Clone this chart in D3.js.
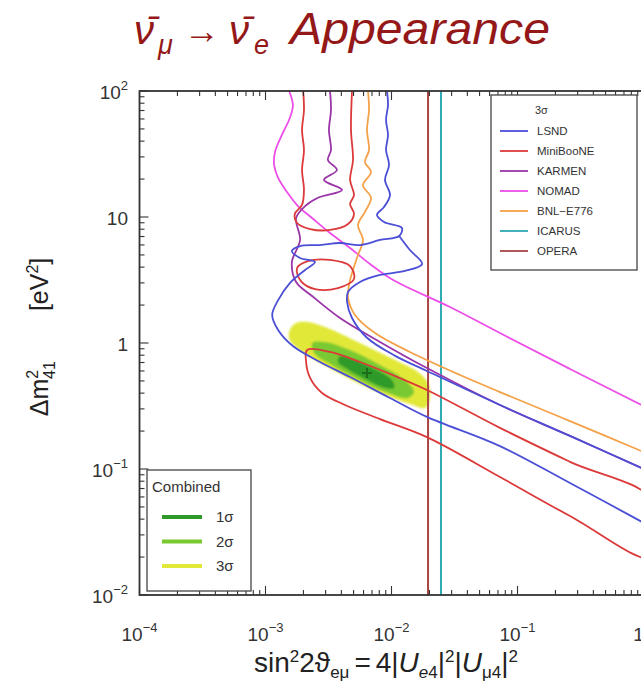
<!DOCTYPE html>
<html>
<head>
<meta charset="utf-8">
<script src="https://d3js.org/d3.v7.min.js"></script>
<style>
html,body{margin:0;padding:0;background:#fff;}
svg{display:block;}
text{font-family:"Liberation Sans",Arial,sans-serif;}
</style>
</head>
<body>
<svg id="chart" width="641" height="688"></svg>
<script>
// ---------------- data ----------------
const xDomain = [1e-4, 1];
const yDomain = [1e-2, 1e2];
const xTickValues = [1e-4, 1e-3, 1e-2, 1e-1, 1];
const xTickBase = ["10", "10", "10", "10", "1"];
const xTickSup = ["\u22124", "\u22123", "\u22122", "\u22121", ""];
const yTickValues = [1e2, 10, 1, 1e-1, 1e-2];
const yTickBase = ["10", "10", "1", "10", "10"];
const yTickSup = ["2", "", "", "\u22121", "\u22122"];

const experiments = ["LSND", "MiniBooNE", "KARMEN", "NOMAD", "BNL\u2212E776", "ICARUS", "OPERA"];
const combinedLevels = ["1\u03c3", "2\u03c3", "3\u03c3"];

// [sin^2 2theta, dm2 (eV^2)]
const operaLimit = [[1.95e-2, 1e-2], [1.95e-2, 100]];
const icarusLimit = [[2.47e-2, 1e-2], [2.47e-2, 100]];

const nomad = [[1.54e-3,100],[1.65e-3,77.4],[1.56e-3,61],[1.35e-3,44.8],[1.19e-3,32.8],[1.17e-3,25.9],
  [1.26e-3,20.4],[1.48e-3,15.8],[1.81e-3,12.2],[2.34e-3,9.82],[3.25e-3,7.46],[4.69e-3,5.68],
  [6.75e-3,4.24],[1.03e-2,3.16],[2.91e-2,1.93],[7.26e-2,1.2],[0.261,0.622],[1.19,0.29]];

const bnl = [[6.51e-3,100],[6.63e-3,70.7],[6.39e-3,49],[6.63e-3,34],[6.16e-3,27.3],[6.88e-3,22.8],
  [5.94e-3,17.9],[6.88e-3,14.2],[6.16e-3,11],[5.42e-3,8.64],[5.94e-3,6.57],[5.42e-3,4.99],
  [4.95e-3,3.8],[4.6e-3,2.89],[4.52e-3,2.28],[5.13e-3,1.67],[7.4e-3,1.2],[1.4e-2,0.849],
  [3.5e-2,0.557],[7.26e-2,0.408],[0.261,0.24],[1.19,0.127]];

const karmen = [[3.25e-3,100],[3.31e-3,70.7],[3.19e-3,49],[3.31e-3,34],[3.13e-3,28.3],[3.69e-3,23.6],
  [2.91e-3,19.7],[4.05e-3,16.4],[2.61e-3,14.2],[2.06e-3,12.2],[1.75e-3,9.82],[1.88e-3,6.57],
  [1.62e-3,4.39],[1.75e-3,3.05],[2.34e-3,2.36],[3.9e-3,1.58],[8.1e-3,1.02],[1.91e-2,0.633],
  [7.26e-2,0.322],[0.261,0.183],[1.19,0.0928]];

const minibooneHigh = [[1.99e-3,100],[2.02e-3,70.7],[1.95e-3,49],[2.02e-3,34],[1.95e-3,23.6],[2.02e-3,16.4],
  [1.95e-3,12.5],[1.71e-3,10.6],[1.78e-3,8.96],[2.26e-3,8.03],[3.25e-3,7.89],[4.52e-3,8.8],
  [5.04e-3,10.6],[4.69e-3,12.7],[5.04e-3,14.9],[4.69e-3,19.7],[4.95e-3,28.3],[4.77e-3,49],[4.86e-3,100]];
const minibooneIsland = [[1.78e-3,3.94],[1.91e-3,3.1],[2.47e-3,2.68],[3.76e-3,2.73],[5.04e-3,3.22],
  [4.69e-3,4.08],[3.25e-3,4.56],[2.17e-3,4.47]];
const minibooneLow = [[2.14e-3,0.88],[3.25e-3,0.849],[5.62e-3,0.707],[9.73e-3,0.568],[1.91e-2,0.424],
  [7.26e-2,0.212],[0.261,0.114],[1.19,0.056],[1.19,0.0197],[0.261,0.0424],[7.26e-2,0.0864],
  [1.91e-2,0.179],[8.1e-3,0.249],[4.28e-3,0.322],[2.81e-3,0.401],[2.26e-3,0.528],[2.1e-3,0.707]];

const lsndOuter = [[9.21e-3,100],[9.38e-3,77.4],[9.05e-3,58.9],[9.38e-3,44.8],[9.05e-3,34],[9.56e-3,25.9],
  [8.88e-3,19.7],[9.73e-3,14.9],[8.72e-3,12],[7.67e-3,10.4],[8.72e-3,9.12],[1.21e-2,8.18],
  [1.15e-2,7.07],[8.1e-3,6.57],[5.62e-3,5.99],[3.9e-3,6.22],[2.71e-3,5.99],[1.88e-3,5.88],
  [1.62e-3,5.37],[1.88e-3,4.73],[2.47e-3,4.39],[2.06e-3,3.8],[1.56e-3,2.99],[1.26e-3,2.19],
  [1.13e-3,1.67],[1.26e-3,1.27],[1.65e-3,0.947],[2.71e-3,0.707],[4.69e-3,0.537],[9.73e-3,0.366],
  [1.91e-2,0.259],[7.26e-2,0.152],[0.261,0.0774],[1.19,0.0341]];
const lsndInner = [[1.15e-2,7.07],[1.4e-2,5.47],[1.75e-2,4.24],[1.28e-2,3.73],[8.1e-3,3.47],[5.62e-3,3.05],
  [4.52e-3,2.54],[4.44e-3,2.12],[4.86e-3,1.58],[6.39e-3,1.1],[1.07e-2,0.79],[1.91e-2,0.6],
  [7.26e-2,0.322],[0.261,0.183],[1.19,0.0928]];

const combined3s = [[1.56e-3,1.27],[1.75e-3,1.44],[2.17e-3,1.47],[2.97e-3,1.34],[4.28e-3,1.14],[6.75e-3,0.912],
  [1.07e-2,0.733],[1.62e-2,0.589],[1.95e-2,0.482],[2.02e-2,0.366],[1.85e-2,0.305],[1.4e-2,0.328],
  [8.88e-3,0.387],[5.62e-3,0.473],[3.56e-3,0.6],[2.34e-3,0.76],[1.78e-3,0.912],[1.54e-3,1.08]];
const combined2s = [[2.34e-3,1.0],[2.97e-3,1.02],[4.69e-3,0.88],[8.1e-3,0.669],[1.28e-2,0.508],[1.51e-2,0.408],
  [1.35e-2,0.366],[8.88e-3,0.408],[5.13e-3,0.528],[3.25e-3,0.681],[2.47e-3,0.818]];
const combined1s = [[3.9e-3,0.788],[5.13e-3,0.733],[7.4e-3,0.622],[1.01e-2,0.508],[1.05e-2,0.44],
  [8.88e-3,0.44],[6.16e-3,0.518],[4.44e-3,0.622],[3.76e-3,0.707]];
const bestFit = [6.39e-3, 0.578];

// ---------------- styles ----------------
const C = {
  LSND: "#4b4fd6", MiniBooNE: "#dc3a3a", KARMEN: "#9a35a8", NOMAD: "#ee4ee8",
  BNL: "#f4a24a", ICARUS: "#2fa9b3", OPERA: "#a84444",
  g1: "#2f9a2a", g2: "#79c930", g3: "#e2e838", axis: "#333", title: "#941818"
};
const expColors = [C.LSND, C.MiniBooNE, C.KARMEN, C.NOMAD, C.BNL, C.ICARUS, C.OPERA];
const lvlColors = [C.g1, C.g2, C.g3];

const svg = d3.select("#chart");
const X0 = 139.5, X1 = 643.5, Y0 = 91, Y1 = 595;
const x = d3.scaleLog().domain(xDomain).range([X0, X1]);
const y = d3.scaleLog().domain(yDomain).range([Y1, Y0]);

const defs = svg.append("defs");
defs.append("clipPath").attr("id", "clip").append("rect")
  .attr("x", X0).attr("y", Y0).attr("width", 700 - X0).attr("height", Y1 - Y0);
defs.append("filter").attr("id", "soft").append("feGaussianBlur").attr("stdDeviation", 0.9);

const plot = svg.append("g").attr("clip-path", "url(#clip)");

const closedLine = d3.line().x(d => x(d[0])).y(d => y(d[1])).curve(d3.curveCatmullRomClosed.alpha(0.5));
const openLine = d3.line().x(d => x(d[0])).y(d => y(d[1])).curve(d3.curveCatmullRom.alpha(0.5));

// combined regions
const regions = plot.append("g").attr("filter", "url(#soft)");
regions.append("path").attr("d", closedLine(combined3s)).attr("fill", C.g3);
regions.append("path").attr("d", closedLine(combined2s)).attr("fill", C.g2);
regions.append("path").attr("d", closedLine(combined1s)).attr("fill", C.g1);

// best-fit cross
const bx = x(bestFit[0]), by = y(bestFit[1]);
plot.append("path").attr("d", `M${bx-5},${by}H${bx+5}M${bx},${by-5}V${by+5}`)
  .attr("stroke", "#1d6e1a").attr("stroke-width", 2);

// contour lines
const lw = 1.8;
function drawOpen(data, color) {
  plot.append("path").attr("d", openLine(data)).attr("fill", "none")
    .attr("stroke", color).attr("stroke-width", lw).attr("stroke-linejoin", "round");
}
function drawClosed(data, color) {
  plot.append("path").attr("d", closedLine(data)).attr("fill", "none")
    .attr("stroke", color).attr("stroke-width", lw).attr("stroke-linejoin", "round");
}
const straight = d3.line().x(d => x(d[0])).y(d => y(d[1]));
plot.append("path").attr("d", straight(operaLimit))
  .attr("stroke", C.OPERA).attr("stroke-width", 2).attr("fill", "none");
plot.append("path").attr("d", straight(icarusLimit))
  .attr("stroke", C.ICARUS).attr("stroke-width", 2).attr("fill", "none");
drawOpen(nomad, C.NOMAD);
drawOpen(bnl, C.BNL);
drawOpen(karmen, C.KARMEN);
drawOpen(minibooneHigh, C.MiniBooNE);
drawClosed(minibooneIsland, C.MiniBooNE);
drawClosed(minibooneLow, C.MiniBooNE);
drawOpen(lsndOuter, C.LSND);
drawOpen(lsndInner, C.LSND);

// ---------------- frame & ticks ----------------
svg.append("rect").attr("x", X0).attr("y", Y0).attr("width", X1 - X0 + 20).attr("height", Y1 - Y0)
  .attr("fill", "none").attr("stroke", C.axis).attr("stroke-width", 1.8);

const isMajor = v => Math.abs(Math.log10(v) - Math.round(Math.log10(v))) < 1e-6;
const xt = x.ticks(), yt = y.ticks();
const ticks = svg.append("g").attr("stroke", C.axis).attr("stroke-width", 1.1);
xt.forEach(v => {
  const L = isMajor(v) ? 9 : 5, px = x(v);
  ticks.append("line").attr("x1", px).attr("x2", px).attr("y1", Y1).attr("y2", Y1 - L);
  ticks.append("line").attr("x1", px).attr("x2", px).attr("y1", Y0).attr("y2", Y0 + L);
});
yt.forEach(v => {
  const L = isMajor(v) ? 9 : 5, py = y(v);
  ticks.append("line").attr("x1", X0).attr("x2", X0 + L).attr("y1", py).attr("y2", py);
});

// tick labels
xTickValues.forEach((v, i) => {
  const t = svg.append("text").attr("x", x(v) - (xTickSup[i] ? 0 : 5)).attr("y", 641).attr("text-anchor", "middle")
    .attr("font-size", 19).attr("fill", C.axis);
  t.append("tspan").text(xTickBase[i]);
  if (xTickSup[i]) t.append("tspan").attr("dy", -9).attr("font-size", 13).text(xTickSup[i]);
});
yTickValues.forEach((v, i) => {
  const t = svg.append("text").attr("x", 128).attr("y", y(v) + 8).attr("text-anchor", "end")
    .attr("font-size", 19).attr("fill", C.axis);
  t.append("tspan").text(yTickBase[i]);
  if (yTickSup[i]) t.append("tspan").attr("dy", -9).attr("font-size", 13).text(yTickSup[i]);
});

// x-axis title
const xt2 = svg.append("text").attr("x", 386).attr("y", 672).attr("text-anchor", "middle")
  .attr("font-size", 28).attr("fill", "#222");
xt2.append("tspan").text("sin");
xt2.append("tspan").attr("dy", -10).attr("font-size", 17).text("2");
xt2.append("tspan").attr("dy", 10).text("2\u03d1");
xt2.append("tspan").attr("dy", 6).attr("font-size", 17).text("e\u03bc");
xt2.append("tspan").attr("dy", -6).attr("dx", 5).text("=");
xt2.append("tspan").attr("dx", 5).text("4|");
xt2.append("tspan").attr("font-style", "italic").text("U");
xt2.append("tspan").attr("dy", 6).attr("font-size", 17).attr("font-style", "italic").text("e");
xt2.append("tspan").attr("font-size", 17).text("4");
xt2.append("tspan").attr("dy", -6).text("|");
xt2.append("tspan").attr("dy", -10).attr("font-size", 17).text("2");
xt2.append("tspan").attr("dy", 10).text("|");
xt2.append("tspan").attr("font-style", "italic").text("U");
xt2.append("tspan").attr("dy", 6).attr("font-size", 17).text("\u03bc4");
xt2.append("tspan").attr("dy", -6).text("|");
xt2.append("tspan").attr("dy", -10).attr("font-size", 17).text("2");

// y-axis title
const yt2 = svg.append("text").attr("transform", "translate(48,337) rotate(-90)")
  .attr("text-anchor", "middle").attr("font-size", 25).attr("fill", "#222");
yt2.append("tspan").text("\u0394m");
yt2.append("tspan").attr("dy", -10).attr("font-size", 16).text("2");
yt2.append("tspan").attr("dx", -9).attr("dy", 17).attr("font-size", 16).text("41");
yt2.append("tspan").attr("dx", 50).attr("dy", -7).text("[eV");
yt2.append("tspan").attr("dy", -10).attr("font-size", 16).text("2");
yt2.append("tspan").attr("dy", 10).text("]");

// title
const title = svg.append("g").attr("fill", C.title);
const serifIt = sel => sel.attr("font-family", "DejaVu Serif").attr("font-style", "italic");
serifIt(title.append("text").attr("x", 134).attr("y", 44).attr("font-size", 40)).text("\u03bd\u0304");
serifIt(title.append("text").attr("x", 158).attr("y", 54).attr("font-size", 27)).text("\u03bc");
title.append("text").attr("x", 184).attr("y", 43).attr("font-size", 36).text("\u2192");
serifIt(title.append("text").attr("x", 229).attr("y", 44).attr("font-size", 40)).text("\u03bd\u0304");
serifIt(title.append("text").attr("x", 254).attr("y", 54).attr("font-size", 27)).text("e");
title.append("text").attr("x", 290).attr("y", 44).attr("font-size", 45).attr("font-style", "italic")
  .attr("textLength", 260).attr("lengthAdjust", "spacingAndGlyphs").text("Appearance");

// ---------------- legends ----------------
const lg = svg.append("g");
lg.append("rect").attr("x", 491).attr("y", 95).attr("width", 146).attr("height", 175)
  .attr("fill", "#fff").attr("stroke", "#444").attr("stroke-width", 1.3);
lg.append("text").attr("x", 535).attr("y", 114).attr("font-size", 11).attr("fill", "#333").text("3\u03c3");
experiments.forEach((name, i) => {
  const yy = 135 + i * 20;
  lg.append("line").attr("x1", 500).attr("x2", 528).attr("y1", yy - 4).attr("y2", yy - 4)
    .attr("stroke", expColors[i]).attr("stroke-width", 1.8);
  lg.append("text").attr("x", 537).attr("y", yy).attr("font-size", 11.5).attr("fill", "#333").text(name);
});

const cg = svg.append("g");
cg.append("rect").attr("x", 147).attr("y", 470).attr("width", 104).attr("height", 121)
  .attr("fill", "#fff").attr("stroke", "#444").attr("stroke-width", 1.3);
cg.append("text").attr("x", 152).attr("y", 492).attr("font-size", 15).attr("fill", "#333").text("Combined");
combinedLevels.forEach((name, i) => {
  const yy = 517 + i * 24.5;
  cg.append("line").attr("x1", 162).attr("x2", 202).attr("y1", yy).attr("y2", yy)
    .attr("stroke", lvlColors[i]).attr("stroke-width", 4);
  cg.append("text").attr("x", 216).attr("y", yy + 5).attr("font-size", 15).attr("fill", "#333").text(name);
});
</script>
</body>
</html>
